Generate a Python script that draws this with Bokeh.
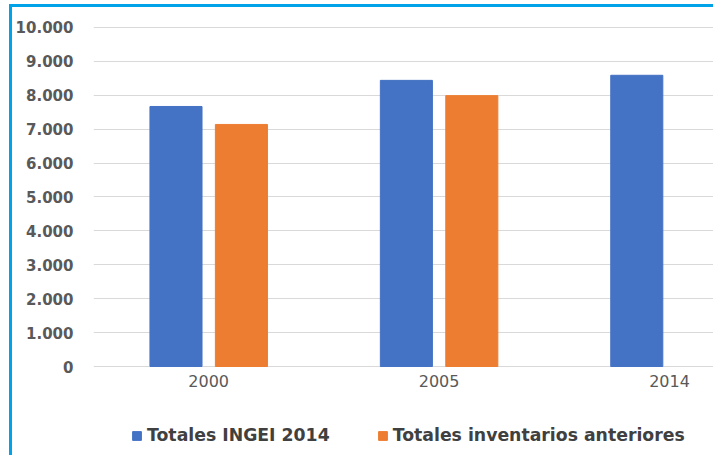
from bokeh.plotting import figure
from bokeh.models import ColumnDataSource, Range1d, FixedTicker, Legend, LegendItem
from bokeh.transform import dodge
from bokeh.embed import file_html
from bokeh.resources import INLINE

# ---- data ----
years = ["2000", "2005", "2014"]
totales_ingei_2014 = [7670, 8440, 8590]
totales_inventarios_anteriores = [7140, 7990, float("nan")]
y_ticks = [0, 1000, 2000, 3000, 4000, 5000, 6000, 7000, 8000, 9000, 10000]
y_tick_labels = ["0", "1.000", "2.000", "3.000", "4.000", "5.000",
                 "6.000", "7.000", "8.000", "9.000", "10.000"]

BLUE = "#4472C4"
ORANGE = "#ED7D31"
TXT = "#595959"
FRAME = "#00A3E8"

x_pos = list(range(len(years)))
src = ColumnDataSource(dict(x=x_pos, ingei=totales_ingei_2014,
                            ant=totales_inventarios_anteriores))

p = figure(width=713, height=455, output_backend="svg", toolbar_location=None,
           x_range=Range1d(-0.5, 2.191), y_range=Range1d(-2625, 10206),
           min_border_left=93, min_border_right=0, min_border_top=20,
           min_border_bottom=0)
p.outline_line_color = None
p.background_fill_color = "white"
p.border_fill_alpha = 0
p.styles = {
    "background-color": "white",
    "background-image": f"linear-gradient({FRAME},{FRAME}), linear-gradient({FRAME},{FRAME})",
    "background-size": "3px 100%, 100% 3px",
    "background-position": "9px 4px, 9px 4px",
    "background-repeat": "no-repeat",
}

r1 = p.vbar(x=dodge("x", -0.142, range=p.x_range), top="ingei", width=0.226,
            source=src, fill_color=BLUE, line_color=BLUE)
r2 = p.vbar(x=dodge("x", 0.142, range=p.x_range), top="ant", width=0.226,
            source=src, fill_color=ORANGE, line_color=ORANGE)

p.xgrid.visible = False
p.ygrid.grid_line_color = "#D9D9D9"
p.ygrid.grid_line_width = 1

p.yaxis.ticker = FixedTicker(ticks=y_ticks)
p.yaxis.major_label_overrides = {t: l for t, l in zip(y_ticks, y_tick_labels)}
p.xaxis.ticker = FixedTicker(ticks=x_pos)
p.xaxis.major_label_overrides = {i: y for i, y in zip(x_pos, years)}
p.xaxis.fixed_location = 0

for ax in (p.xaxis, p.yaxis):
    ax.axis_line_color = None
    ax.major_tick_line_color = None
    ax.minor_tick_line_color = None
    ax.major_tick_out = 0
    ax.major_tick_in = 0

p.yaxis.major_label_text_font = "DejaVu Sans"
p.yaxis.major_label_text_font_style = "bold"
p.yaxis.major_label_text_font_size = "15px"
p.yaxis.major_label_text_color = TXT
p.yaxis.major_label_standoff = 20

p.xaxis.major_label_text_font = "DejaVu Sans"
p.xaxis.major_label_text_font_size = "16px"
p.xaxis.major_label_text_color = TXT
p.xaxis.major_label_standoff = 8

legend = Legend(items=[LegendItem(label="Totales INGEI 2014", renderers=[r1]),
                       LegendItem(label="Totales inventarios anteriores", renderers=[r2])],
                orientation="horizontal", location=(38, 10),
                border_line_color=None, background_fill_alpha=0,
                label_text_font="DejaVu Sans", label_text_font_style="bold",
                label_text_font_size="17.3px", label_text_color="#404040",
                glyph_width=11, glyph_height=11, label_standoff=5, spacing=47,
                padding=0, margin=0)
p.add_layout(legend, "center")

open("out.html", "w").write(file_html(p, INLINE))
